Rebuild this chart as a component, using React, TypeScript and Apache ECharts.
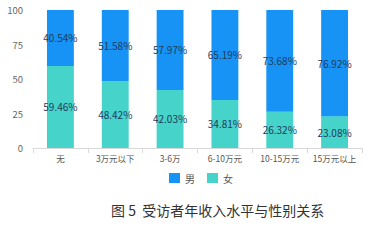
import React, { useEffect, useRef } from "react";
import * as echarts from "echarts";

const categories = ["无", "3万元以下", "3-6万", "6-10万元", "10-15万元", "15万元以上"];
const female = [59.46, 48.42, 42.03, 34.81, 26.32, 23.08];
const male = [40.54, 51.58, 57.97, 65.19, 73.68, 76.92];
const yTicks = [0, 25, 50, 75, 100];

export default function App() {
  const ref = useRef<HTMLDivElement>(null);
  useEffect(() => {
    if (!ref.current) return;
    const chart = echarts.init(ref.current, undefined, { renderer: "svg" });
    const font = "'Noto Sans CJK SC', 'Noto Sans', sans-serif";
    chart.setOption({
      animation: false,
      textStyle: { fontFamily: font },
      title: {
        text: "图 5  受访者年收入水平与性别关系",
        left: 106,
        top: 198,
        textStyle: { fontSize: 14, fontWeight: "normal", color: "#333", fontFamily: font },
      },
      legend: {
        data: ["男", "女"],
        top: 168,
        left: 164,
        itemWidth: 11,
        itemHeight: 10,
        itemGap: 12,
        icon: "rect",
        textStyle: { fontSize: 10, color: "#555", fontFamily: font },
      },
      grid: { left: 33, right: 27, top: 10, bottom: 92, containLabel: false },
      xAxis: {
        type: "category",
        data: categories,
        axisLine: { lineStyle: { color: "#d9d9d9" } },
        axisTick: { show: true, alignWithLabel: false, length: 5, lineStyle: { color: "#d9d9d9" } },
        axisLabel: { fontSize: 8.5, color: "#555", margin: 6, interval: 0, fontFamily: font },
      },
      yAxis: {
        type: "value",
        min: 0,
        max: 100,
        interval: 25,
        axisLine: { show: false },
        axisTick: { show: false },
        splitLine: { show: false },
        axisLabel: {
          fontSize: 9.5,
          color: "#666",
          margin: 10,
          formatter: (v: number) => (yTicks.includes(v) ? String(v) : ""),
        },
      },
      series: [
        {
          name: "女",
          type: "bar",
          stack: "total",
          data: female,
          barWidth: "49%",
          itemStyle: { color: "#45D3CA" },
          label: {
            show: true,
            position: "inside",
            formatter: (p: any) => p.value.toFixed(2) + "%",
            fontSize: 10,
            color: "#1F3B5C",
            fontFamily: font,
          },
        },
        {
          name: "男",
          type: "bar",
          stack: "total",
          data: male,
          barWidth: "49%",
          itemStyle: { color: "#1693F5" },
          label: {
            show: true,
            position: "inside",
            formatter: (p: any) => p.value.toFixed(2) + "%",
            fontSize: 10,
            color: "#1F3B5C",
            fontFamily: font,
          },
        },
      ],
    });
    return () => chart.dispose();
  }, []);
  return <div ref={ref} style={{ width: 389, height: 240, position: "absolute", left: 0, top: 0 }} />;
}
